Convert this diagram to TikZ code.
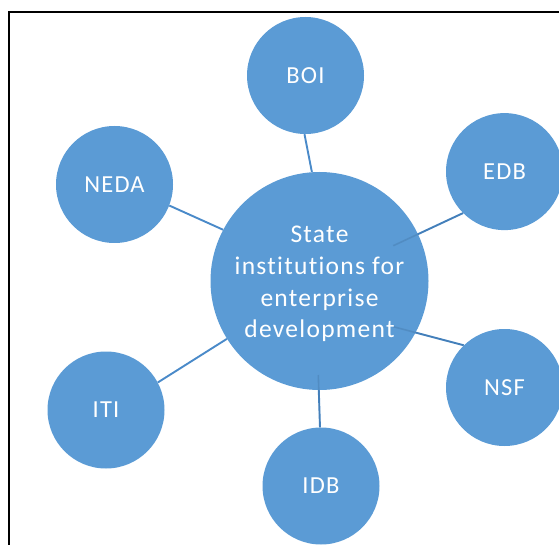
\documentclass[tikz,border=0pt]{standalone}
\usepackage{fontspec}
\setmainfont{Carlito}[LetterSpace=5,Ligatures={NoCommon,NoRare,NoContextual}]
\definecolor{bubble}{HTML}{5B9BD5}
\definecolor{linkc}{HTML}{4A8AC9}
\begin{document}
\begin{tikzpicture}[x=1pt,y=-1pt,
  bubble/.style={circle,fill=bubble,inner sep=0pt,minimum size=117pt,text=white,font=\fontsize{24.5}{29}\selectfont},
  hub/.style={circle,fill=bubble,inner sep=0pt,minimum size=218pt},
  hubtext/.style={text=white,align=center,inner sep=0pt,font=\fontsize{25.5}{31.7}\selectfont},
  link/.style={draw=linkc,line width=1.9pt},
  faint/.style={draw=linkc!70!black,line width=1.6pt,draw opacity=0.25},
  frame/.style={draw=black,line width=1.7pt}]
\useasboundingbox (0,0) rectangle (559,545);
\draw[frame] (9.3,560) -- (9.3,11.8) -- (570,11.8);
% satellite circles
\node[bubble] (boi)  at (305.5,75.5)  {BOI};
\node[bubble] (edb)  at (504.5,171.6) {EDB};
\node[bubble] (neda) at (114.5,184.5) {NEDA};
\node[bubble] (iti)  at (106,410)     {ITI};
\node[bubble] (idb)  at (321,486)     {IDB};
\node[bubble] (nsf)  at (504.5,387.5) {NSF};
% inner ends of connectors
\coordinate (edbIn) at (393.3,245.7);
\coordinate (nsfIn) at (393.3,326.7);
\coordinate (idbIn) at (318.3,375);
\coordinate (hubC) at (319.5,281);
% connectors (drawn before the hub)
\draw[link] (edb.225.8) -- (edbIn);
\draw[link] (nsf.134) -- (nsfIn);
\draw[link] (idb.91) -- (idbIn);
\node[hub] (hub) at (hubC) {};
\draw[faint] (edb.225.8) -- (edbIn);
\draw[faint] (nsf.134) -- (nsfIn);
\draw[faint] (idb.91) -- (idbIn);
\node[hubtext,yshift=-3pt] (hubtxt) at (hub.center) {State\\institutions for\\enterprise\\development};
\draw[link] (boi.269.5) -- (hub.94.1);
\draw[link] (neda.339.7) -- (hub.152.4);
\draw[link] (iti.28) -- (hub.212.9);
\end{tikzpicture}
\end{document}
